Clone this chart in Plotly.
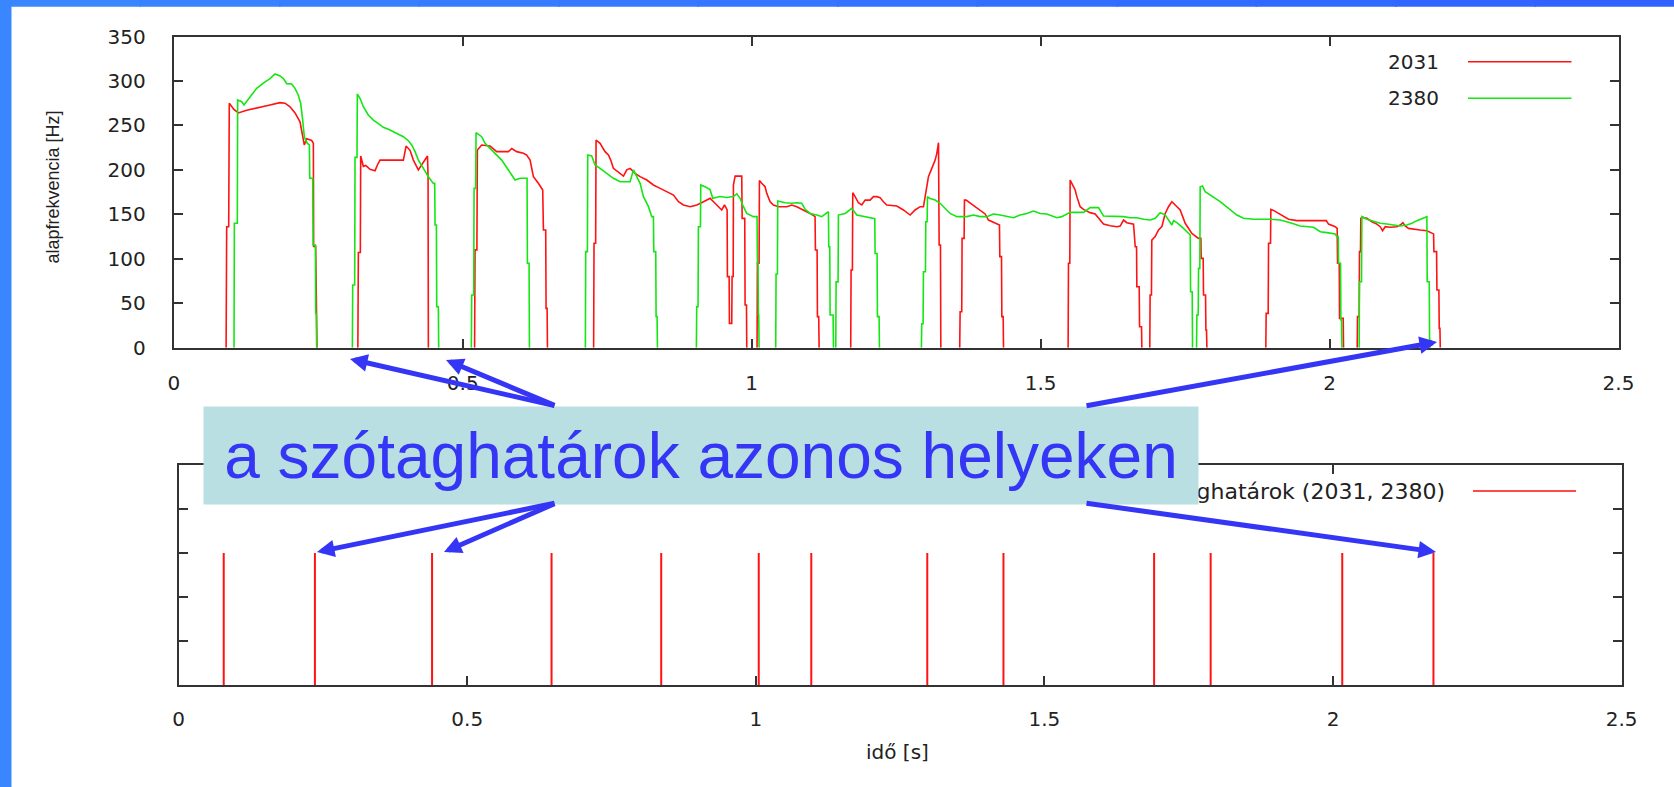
import plotly.graph_objects as go

W, H = 1674, 787

# ---------------- data ----------------
t_2031 = [
    0.0905, 0.0915, 0.0950, 0.0960, 0.1040, 0.1117, 0.1261, 0.1492, 0.1665, 0.1838, 0.1925, 0.2011, 0.2098, 0.2184, 0.2230, 0.2259, 0.2300, 0.2386, 0.2415, 0.2420, 0.2455, 0.2462, 0.2470, 0.2478,
    0.3185, 0.3194, 0.3228, 0.3234, 0.3280, 0.3320, 0.3396, 0.3482, 0.3523, 0.3569, 0.3973, 0.4019, 0.4088, 0.4146, 0.4232, 0.4290, 0.4348, 0.4390, 0.4400, 0.4405,
    0.5205, 0.5213, 0.5245, 0.5253, 0.5328, 0.5472, 0.5588, 0.5790, 0.5848, 0.5934, 0.6050, 0.6107, 0.6165, 0.6223, 0.6309, 0.6384, 0.6396, 0.6436, 0.6442, 0.6460, 0.6466,
    0.7265, 0.7272, 0.7300, 0.7307, 0.7376, 0.7463, 0.7521, 0.7561, 0.7607, 0.7723, 0.7781, 0.7838, 0.7896, 0.7983, 0.8069, 0.8185, 0.8300, 0.8416, 0.8531, 0.8647, 0.8733, 0.8820, 0.8935, 0.9051, 0.9166, 0.9282, 0.9340, 0.9424, 0.9482, 0.9530, 0.9575, 0.9580, 0.9610, 0.9615, 0.9655, 0.9661, 0.9680, 0.9684, 0.9713, 0.9828, 0.9835, 0.9880, 0.9886, 0.9910, 0.9915,
    1.0093, 1.0099, 1.0128, 1.0134, 1.0174, 1.0232, 1.0261, 1.0319, 1.0376, 1.0463, 1.0607, 1.0694, 1.0780, 1.0896, 1.1011, 1.1097, 1.1103, 1.1132, 1.1138, 1.1160, 1.1167,
    1.1714, 1.1720, 1.1743, 1.1749, 1.1790, 1.1847, 1.1905, 1.1963, 1.2049, 1.2107, 1.2165, 1.2222, 1.2280, 1.2338, 1.2511, 1.2626, 1.2742, 1.2828, 1.2915, 1.2973, 1.3002, 1.3030, 1.3059, 1.3117, 1.3175, 1.3204, 1.3233, 1.3244, 1.3267, 1.3273,
    1.3600, 1.3607, 1.3635, 1.3641, 1.3676, 1.3682, 1.3711, 1.4040, 1.4098, 1.4213, 1.4288, 1.4294, 1.4323, 1.4329, 1.4352, 1.4358,
    1.5476, 1.5482, 1.5505, 1.5511, 1.5540, 1.5598, 1.5627, 1.5684, 1.5742, 1.5857, 1.5944, 1.6002, 1.6088, 1.6204, 1.6319, 1.6377, 1.6435, 1.6492, 1.6608, 1.6637, 1.6660, 1.6665, 1.6706, 1.6712, 1.6746, 1.6752,
    1.6889, 1.6895, 1.6918, 1.6924, 1.6982, 1.7040, 1.7098, 1.7156, 1.7213, 1.7271, 1.7329, 1.7415, 1.7502, 1.7617, 1.7733, 1.7773, 1.7779, 1.7813, 1.7819, 1.7854, 1.7860, 1.7871, 1.7877,
    1.8897, 1.8903, 1.8938, 1.8944, 1.8978, 1.8984, 1.9030, 1.9117, 1.9203, 1.9290, 1.9434, 1.9942, 1.9982, 2.0098, 2.0132, 2.0138, 2.0167, 2.0173, 2.0236, 2.0242,
    2.0478, 2.0484, 2.0512, 2.0518, 2.0535, 2.0541, 2.0576, 2.0645, 2.0732, 2.0818, 2.0876, 2.0917, 2.0963, 2.1049, 2.1165, 2.1223, 2.1269, 2.1309, 2.1367, 2.1454, 2.1569, 2.1684, 2.1742, 2.1800, 2.1806, 2.1852, 2.1858, 2.1892, 2.1898, 2.1910, 2.1916,
]
f_2031 = [
    0, 136, 136, 275, 268, 264, 267, 270, 273, 275.6, 275, 271, 264, 254, 239, 228, 235, 233, 230, 114, 114, 39, 39, 0,
    0, 107, 107, 215.6, 204, 205, 200.6, 199, 205.5, 211, 211, 226.8, 222, 211, 200, 205.5, 211, 215.6, 192, 0,
    0, 110, 110, 222.3, 228, 226.8, 220.5, 220.5, 224, 220.5, 218.6, 216.7, 211, 192.4, 184.9, 177.4, 132.4, 132.4, 44.2, 44.2, 0,
    0, 117.4, 117.4, 233.6, 229.8, 220.5, 216.7, 211, 201.7, 196, 193, 200, 201.7, 196, 192.4, 188.6, 183, 179.2, 175.5, 171.7, 164.2, 160.5, 158.6, 160.5, 164.2, 168, 164.2, 158.6, 154.9, 160.5, 154.9, 79.9, 79.9, 27.4, 27.4, 80, 80, 183, 193, 193, 145.5, 145.5, 48, 48, 0,
    0, 94.9, 94.9, 188, 184.9, 181, 173.6, 164.2, 160.5, 158.6, 158.6, 160.5, 158.6, 154.9, 151, 147.4, 109.9, 109.9, 34.9, 34.9, 0,
    0, 87.4, 87.4, 174.4, 169.9, 163, 160.5, 166, 166, 169.9, 169.9, 168.8, 164.2, 160.5, 159.3, 154.9, 149.2, 154.9, 158.6, 158.6, 169.9, 181, 192.4, 201.7, 211, 218.6, 230.6, 115.5, 115.5, 0,
    0, 40.5, 40.5, 123, 123, 166, 166, 150.4, 143.6, 139.9, 138, 102.4, 102.4, 34.9, 34.9, 0,
    0, 94.9, 94.9, 188.6, 184.9, 177.4, 169.9, 158.6, 155.6, 151.9, 150.4, 145.5, 139, 137.2, 136.1, 136.8, 143.6, 140.6, 139, 113.6, 113.6, 68.6, 68.6, 23.6, 23.6, 0,
    0, 59.2, 59.2, 121, 124.9, 132.4, 136.1, 151, 158.6, 164.2, 160.5, 154.9, 139.9, 128.6, 123, 123, 100.5, 100.5, 59.2, 59.2, 19.9, 19.9, 0,
    0, 38.6, 38.6, 117.4, 117.4, 155.6, 154.4, 151.1, 147.4, 144.4, 142.9, 142.9, 139, 136.1, 134.2, 94.9, 94.9, 33, 33, 0,
    0, 34.9, 34.9, 108, 108, 145.5, 146.6, 145.5, 141.7, 139, 136.1, 131.6, 136.1, 135.4, 136.1, 138, 140.6, 136.9, 134.2, 133.1, 132.4, 131.6, 129.4, 128, 108, 108, 64.9, 64.9, 21.7, 21.7, 0,
]

t_2380 = [
    0.1042, 0.1048, 0.1099, 0.1105, 0.1175, 0.1215, 0.1319, 0.1434, 0.1579, 0.1665, 0.1751, 0.1838, 0.1896, 0.1954, 0.2040, 0.2098, 0.2155, 0.2196, 0.2230, 0.2259, 0.2311, 0.2346, 0.2352, 0.2404, 0.2410, 0.2450, 0.2456, 0.2466, 0.2472,
    0.3090, 0.3096, 0.3130, 0.3136, 0.3170, 0.3176, 0.3222, 0.3280, 0.3366, 0.3453, 0.3540, 0.3626, 0.3713, 0.3799, 0.3886, 0.3973, 0.4059, 0.4117, 0.4175, 0.4232, 0.4319, 0.4405, 0.4492, 0.4515, 0.4521, 0.4544, 0.4550, 0.4578, 0.4584,
    0.5149, 0.5155, 0.5190, 0.5196, 0.5224, 0.5230, 0.5328, 0.5386, 0.5472, 0.5559, 0.5674, 0.5790, 0.5905, 0.5992, 0.6113, 0.6119, 0.6148, 0.6154,
    0.7122, 0.7128, 0.7157, 0.7163, 0.7232, 0.7290, 0.7376, 0.7492, 0.7607, 0.7723, 0.7896, 0.7954, 0.8012, 0.8069, 0.8127, 0.8214, 0.8271, 0.8300, 0.8306, 0.8340, 0.8346, 0.8363, 0.8369,
    0.9043, 0.9049, 0.9072, 0.9078, 0.9113, 0.9119, 0.9194, 0.9280, 0.9326, 0.9453, 0.9569, 0.9684, 0.9742, 0.9799, 0.9857, 0.9915, 1.0030, 1.0093, 1.0099, 1.0110, 1.0116, 1.0122, 1.0128,
    1.0416, 1.0422, 1.0445, 1.0451, 1.0578, 1.0694, 1.0780, 1.0867, 1.0925, 1.1011, 1.1126, 1.1213, 1.1328, 1.1334, 1.1351, 1.1357, 1.1409, 1.1415,
    1.1455, 1.1461, 1.1495, 1.1501, 1.1617, 1.1732, 1.1819, 1.1934, 1.2049, 1.2130, 1.2136, 1.2170, 1.2176, 1.2205, 1.2211,
    1.2937, 1.2943, 1.2966, 1.2972, 1.3007, 1.3013, 1.3036, 1.3042, 1.3076, 1.3175, 1.3261, 1.3348, 1.3434, 1.3550, 1.3723, 1.3838, 1.3954, 1.4069, 1.4184, 1.4300, 1.4415, 1.4531, 1.4646, 1.4761, 1.4877, 1.4992, 1.5107, 1.5281, 1.5367, 1.5511, 1.5627, 1.5742, 1.5857, 1.6002, 1.6088, 1.6204, 1.6435, 1.6550, 1.6665, 1.6781, 1.6896, 1.6983, 1.7069, 1.7156, 1.7242, 1.7271, 1.7300, 1.7358, 1.7473, 1.7560, 1.7589, 1.7595, 1.7623, 1.7629,
    1.7698, 1.7704, 1.7727, 1.7733, 1.7755, 1.7761, 1.7802, 1.7848, 1.8107, 1.8280, 1.8396, 1.8511, 1.8684, 1.8973, 1.9146, 1.9319, 1.9492, 1.9723, 1.9838, 1.9954, 2.0098, 2.0127, 2.0150, 2.0156, 2.0190, 2.0196, 2.0208, 2.0214,
    2.0512, 2.0518, 2.0553, 2.0559, 2.0645, 2.0761, 2.0876, 2.0992, 2.1107, 2.1223, 2.1338, 2.1425, 2.1511, 2.1598, 2.1684, 2.1690, 2.1725, 2.1731, 2.1736, 2.1742,
]
f_2380 = [
    0, 140, 140, 278.6, 276.7, 273, 282, 291.7, 299, 302.6, 307.8, 305.6, 302.6, 297, 296.6, 291.7, 284, 274.8, 256, 237, 229.8, 228, 190.5, 190.5, 115.5, 115.5, 38.6, 38.6, 0,
    0, 70.5, 70.5, 214, 214, 285.3, 280.5, 271, 261.7, 256, 252, 247.8, 245.6, 243, 240.3, 237.3, 232.8, 228, 220.5, 211, 201.7, 192.3, 184.8, 184.8, 138, 138, 46, 46, 0,
    0, 59.2, 59.2, 179.2, 179.2, 241.8, 237.3, 229.8, 224.2, 218.6, 211, 199.9, 188.6, 190.5, 190.5, 94.9, 94.9, 0,
    0, 108, 108, 216.7, 215.6, 205.5, 201.7, 196, 190.5, 186.7, 186.7, 200, 192.4, 184.9, 169.9, 158.6, 147.4, 147.4, 108, 108, 34.9, 34.9, 0,
    0, 46, 46, 136, 136, 183, 181, 178, 168, 170, 169, 170, 173, 168, 158.6, 151, 147.4, 147.4, 94.9, 94.9, 36.7, 36.7, 0,
    0, 82.9, 82.9, 165, 163, 162.4, 163, 162.4, 155.6, 151, 149.2, 147.4, 153, 113.6, 113.6, 36.7, 36.7, 0,
    0, 74, 74, 149.2, 151, 156.7, 149.2, 147.4, 145.5, 145, 106, 106, 35, 35, 0,
    0, 27, 27, 85.5, 85.5, 141.7, 141.7, 169.9, 168, 166, 162.4, 156.7, 151, 147.4, 147.4, 149.2, 147.4, 147.4, 150.4, 149.2, 148.1, 146.2, 149.2, 151, 153.7, 151, 150.4, 146.2, 147.4, 152.2, 152.2, 152.2, 157.5, 157.5, 148.1, 148.1, 147.4, 146.2, 146.2, 144.4, 143.6, 145.5, 151.9, 149.2, 141.7, 138, 142.9, 140.6, 134.2, 128.6, 126.7, 63, 63, 0,
    0, 36.7, 36.7, 89.2, 89.2, 181, 181.9, 175.5, 164.2, 154.9, 149.2, 145.5, 144.4, 144.4, 143.6, 140.6, 136.9, 135.4, 130.5, 129.4, 127.9, 124.9, 124.9, 94.9, 94.9, 31.1, 31.1, 0,
    0, 74.2, 74.2, 147.4, 144.4, 141.7, 139.9, 139.2, 138, 136.9, 138, 139.9, 142.9, 144.8, 147.4, 74.2, 74.2, 8.6, 8.6, 0,
]

# syllable boundaries found in both utterances
boundaries = [0.078, 0.236, 0.439, 0.646, 0.836, 1.005, 1.096, 1.297, 1.429, 1.690, 1.788, 2.016, 2.174]
boundary_height = 0.6

x_ticks = [0, 0.5, 1, 1.5, 2, 2.5]
y_ticks = [0, 50, 100, 150, 200, 250, 300, 350]

series_names = ["2031", "2380"]
boundary_label = "szótaghatárok (2031, 2380)"
callout_text = "a szótaghatárok azonos helyeken"
y_title = "alapfrekvencia [Hz]"
x_title = "idő [s]"

# ---------------- styling ----------------
RED = "#ff1212"
GREEN = "#14e614"
AX = "#333333"
TXT = "#222222"
BLUE = "#3535f5"
BOX = "#badfe2"
TICKFONT = dict(family="DejaVu Sans", size=20, color=TXT)


def px(v):
    return v / W


def py(v):
    return 1 - v / H


def split_unvoiced(ts, fs):
    """Break the contour where it rests at 0 Hz (unvoiced), so nothing runs along the axis."""
    xo, yo = [], []
    for i, (t, f) in enumerate(zip(ts, fs)):
        xo.append(t)
        yo.append(f)
        if f == 0 and i + 1 < len(fs) and fs[i + 1] == 0:
            xo.append(None)
            yo.append(None)
    return xo, yo


fig = go.Figure()

x1, y1 = split_unvoiced(t_2031, f_2031)
x2, y2 = split_unvoiced(t_2380, f_2380)
fig.add_trace(go.Scatter(x=x1, y=y1, mode="lines", line=dict(color=RED, width=1.6),
                         name=series_names[0], showlegend=False, xaxis="x", yaxis="y"))
fig.add_trace(go.Scatter(x=x2, y=y2, mode="lines", line=dict(color=GREEN, width=1.6),
                         name=series_names[1], showlegend=False, xaxis="x", yaxis="y"))

bx, by = [], []
for b in boundaries:
    bx += [b, b, None]
    by += [0, boundary_height, None]
fig.add_trace(go.Scatter(x=bx, y=by, mode="lines", line=dict(color=RED, width=2),
                         name=boundary_label, showlegend=False, xaxis="x2", yaxis="y2"))

axis_common = dict(showgrid=False, zeroline=False, showline=True, linecolor=AX, linewidth=2,
                   mirror="ticks", ticks="inside", ticklen=9, tickwidth=2, tickcolor=AX,
                   tickfont=TICKFONT)

fig.update_layout(
    autosize=True,
    margin=dict(l=0, r=0, t=0, b=0, autoexpand=False),
    paper_bgcolor="white", plot_bgcolor="white",
    showlegend=False,
    xaxis=dict(domain=[px(173.8), px(1618.5)], range=[0, 2.5], tickvals=x_ticks,
               anchor="y", ticklabelstandoff=16, **axis_common),
    yaxis=dict(domain=[py(347.7), py(36.5)], range=[0, 350], tickvals=y_ticks,
               anchor="x", ticklabelstandoff=22, **axis_common),
    xaxis2=dict(domain=[px(178.7), px(1621.6)], range=[0, 2.5], tickvals=x_ticks,
                anchor="y2", ticklabelstandoff=15, **axis_common),
    yaxis2=dict(domain=[py(685.3), py(465)], range=[0, 1], dtick=0.2, tick0=0,
                anchor="x2", showticklabels=False, **axis_common),
)

shapes = []
# slide frame (blue strips at left and top)
shapes.append(dict(type="rect", xref="paper", yref="paper", x0=0, x1=px(11.5), y0=0, y1=1,
                   fillcolor="#3a86ff", line=dict(width=0), layer="above"))
n = 12
for i in range(n):
    r = i / (n - 1)
    c = "#%02x%02x%02x" % (int(0x3a + (0x30 - 0x3a) * r), int(0x86 + (0x62 - 0x86) * r), 0xff)
    shapes.append(dict(type="rect", xref="paper", yref="paper", x0=i / n, x1=(i + 1) / n + 0.001,
                       y0=py(6.7), y1=1, fillcolor=c, line=dict(width=0), layer="above"))
# legend samples
shapes.append(dict(type="line", xref="paper", yref="paper", x0=px(1468), x1=px(1571.5),
                   y0=py(61.7), y1=py(61.7), line=dict(color=RED, width=1.6)))
shapes.append(dict(type="line", xref="paper", yref="paper", x0=px(1468), x1=px(1571.5),
                   y0=py(98.3), y1=py(98.3), line=dict(color=GREEN, width=1.6)))
shapes.append(dict(type="line", xref="paper", yref="paper", x0=px(1473), x1=px(1576),
                   y0=py(491), y1=py(491), line=dict(color="#ff4a4a", width=2)))
fig.update_layout(shapes=shapes)

ann = []
# axis titles
ann.append(dict(text=y_title, xref="paper", yref="paper", x=px(52.5), y=py(187), showarrow=False,
                xanchor="center", yanchor="middle", textangle=-90,
                font=dict(family="Liberation Sans, Arial", size=18, color=TXT)))
ann.append(dict(text=x_title, xref="paper", yref="paper", x=px(897), y=py(752), showarrow=False,
                xanchor="center", yanchor="middle",
                font=dict(family="DejaVu Sans", size=20, color=TXT)))
# legends
ann.append(dict(text=series_names[0], xref="paper", yref="paper", x=px(1441), y=py(61.7),
                xanchor="right", yanchor="middle", showarrow=False, font=TICKFONT))
ann.append(dict(text=series_names[1], xref="paper", yref="paper", x=px(1441), y=py(98.3),
                xanchor="right", yanchor="middle", showarrow=False, font=TICKFONT))
ann.append(dict(text=boundary_label, xref="paper", yref="paper", x=px(1447), y=py(491),
                xanchor="right", yanchor="middle", showarrow=False,
                font=dict(family="DejaVu Sans", size=22, color=TXT)))
# callout box
ann.append(dict(text=callout_text, xref="paper", yref="paper", x=px(701), y=py(455.2),
                xanchor="center", yanchor="middle", showarrow=False, width=994, height=97,
                borderpad=0, bgcolor=BOX, align="center", valign="middle",
                font=dict(family="Liberation Sans, Arial", size=64, color=BLUE)))
# arrows: (tail_x, tail_y, head_x, head_y) in pixels
arrows = [
    (556, 406, 350, 359),
    (556, 406, 446, 360),
    (1085, 406, 1437, 342),
    (556, 503, 317, 552),
    (556, 503, 444, 552),
    (1085, 503, 1436, 552),
]
for tx, ty, hx, hy in arrows:
    ann.append(dict(text="", xref="paper", yref="paper", x=px(hx), y=py(hy),
                    ax=tx - hx, ay=ty - hy, axref="pixel", ayref="pixel",
                    showarrow=True, arrowhead=2, arrowsize=0.7, arrowwidth=5,
                    arrowcolor=BLUE, standoff=0, startstandoff=0))
fig.update_layout(annotations=ann)

page_css = '"></div><style>html,body{margin:0;padding:0;overflow:hidden;}</style><div style="display:none'
fig.write_html(
    "out.html",
    config={"displayModeBar": False},
    default_width="%dpx; height:%dpx;%s" % (W, H, page_css),
    default_height="%dpx; width:%dpx;%s" % (H, W, page_css),
)
